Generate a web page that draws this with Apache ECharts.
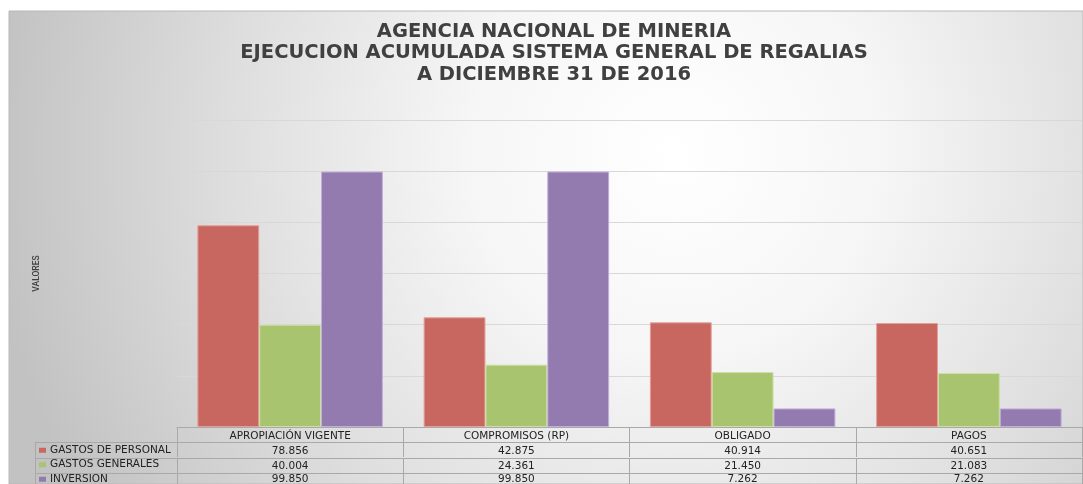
<!DOCTYPE html>
<html>
<head>
<meta charset="utf-8">
<script src="https://cdn.jsdelivr.net/npm/echarts@6/dist/echarts.min.js"></script>
<style>
  html, body { margin: 0; padding: 0; background: #fff; }
  #chart { width: 1083px; height: 484px; }
</style>
</head>
<body>
<div id="chart"></div>
<script>
// datos
const categories = ['APROPIACIÓN VIGENTE', 'COMPROMISOS (RP)', 'OBLIGADO', 'PAGOS'];
const seriesNames = ['GASTOS DE PERSONAL', 'GASTOS GENERALES', 'INVERSION'];
const gastosPersonal = [78.856, 42.875, 40.914, 40.651];
const gastosGenerales = [40.004, 24.361, 21.450, 21.083];
const inversion = [99.850, 99.850, 7.262, 7.262];
const colors = ['#c7675f', '#a8c46e', '#937bb0'];
const borders = ['#e3a09a', '#cde0a4', '#c0aedb'];

const seriesData = [gastosPersonal, gastosGenerales, inversion];
const gridLine = '#a9a9a9';
const font = 'DejaVu Sans';

const chart = echarts.init(document.getElementById('chart'));

// filas de la tabla como ejes x adicionales
function rowAxis(offset, labels, margin) {
  return {
    type: 'category',
    gridIndex: 0,
    position: 'bottom',
    offset: offset,
    data: categories,
    axisLine: { show: true, lineStyle: { color: gridLine, width: 1 } },
    axisTick: { show: true, length: 15, interval: 0, lineStyle: { color: gridLine } },
    axisLabel: {
      interval: 0,
      margin: margin,
      color: '#222',
      fontFamily: font,
      fontSize: 10.5,
      formatter: (v, i) => labels[i]
    },
    z: 5
  };
}

const fmt = arr => arr.map(v => v.toFixed(3));

const xAxes = [
  rowAxis(0, categories, 4),
  rowAxis(15, fmt(gastosPersonal), 4),
  rowAxis(31, fmt(gastosGenerales), 3),
  rowAxis(46, fmt(inversion), 1)
];

chart.setOption({
  animation: false,
  title: {
    text: 'AGENCIA NACIONAL DE MINERIA\nEJECUCION ACUMULADA SISTEMA GENERAL DE REGALIAS\nA DICIEMBRE 31 DE 2016',
    left: 554,
    top: 21,
    padding: 0,
    textAlign: 'center',
    textStyle: {
      fontFamily: font,
      fontWeight: 'bold',
      fontSize: 19.5,
      lineHeight: 21.5,
      color: '#404040'
    }
  },
  legend: {
    orient: 'vertical',
    left: 39,
    top: 443,
    height: 80,
    padding: 0,
    itemWidth: 7,
    itemHeight: 5,
    itemGap: 0,
    icon: 'rect',
    data: seriesNames,
    itemStyle: { borderWidth: 0 },
    textStyle: { fontFamily: font, fontSize: 10.5, color: '#222', lineHeight: 14.5, padding: [0, 0, 0, -1] }
  },
  graphic: [
    {
      type: 'rect',
      z: -10,
      silent: true,
      shape: { x: 9, y: 11, width: 1074, height: 473 },
      style: {
        fill: new echarts.graphic.RadialGradient(0.62, 0.3, 1.45, [
          { offset: 0, color: '#ffffff' },
          { offset: 0.3, color: '#f6f6f6' },
          { offset: 0.65, color: '#dedede' },
          { offset: 1, color: '#c2c2c2' }
        ]),
        stroke: '#b8b8b8',
        lineWidth: 1
      }
    },
    { type: 'line', silent: true, shape: { x1: 35, y1: 442.5, x2: 177, y2: 442.5 }, style: { stroke: gridLine } },
    { type: 'line', silent: true, shape: { x1: 35, y1: 458.5, x2: 177, y2: 458.5 }, style: { stroke: gridLine } },
    { type: 'line', silent: true, shape: { x1: 35, y1: 473.5, x2: 177, y2: 473.5 }, style: { stroke: gridLine } },
    { type: 'line', silent: true, shape: { x1: 35.5, y1: 442, x2: 35.5, y2: 484 }, style: { stroke: gridLine } }
  ],
  grid: {
    left: 177,
    right: 1,
    top: 120,
    bottom: 57,
    outerBoundsMode: 'none'
  },
  xAxis: xAxes,
  yAxis: {
    type: 'value',
    min: 0,
    max: 120,
    interval: 20,
    name: 'VALORES',
    nameLocation: 'middle',
    nameRotate: 90,
    nameGap: 136,
    nameTextStyle: { fontFamily: 'Roboto', fontSize: 8.5, fontWeight: 500, color: '#404040' },
    axisLine: { show: false },
    axisTick: { show: false },
    axisLabel: { show: false },
    splitLine: { lineStyle: { color: '#d8d8d8' } }
  },
  series: seriesNames.map((name, i) => ({
    name: name,
    type: 'bar',
    xAxisIndex: 0,
    data: seriesData[i],
    barGap: '0%',
    barCategoryGap: '18%',
    itemStyle: { color: colors[i], borderColor: borders[i], borderWidth: 1 }
  }))
});
</script>
</body>
</html>
